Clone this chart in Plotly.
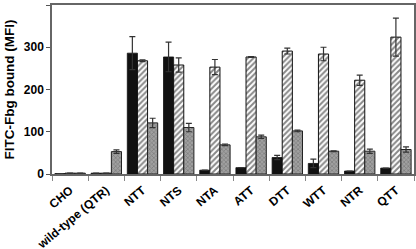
import plotly.graph_objects as go

categories = ["CHO", "wild-type (QTR)", "NTT", "NTS", "NTA", "ATT", "DTT", "WTT", "NTR", "QTT"]
black_vals = [1, 2, 286, 277, 9, 15, 39, 25, 7, 14]
black_err = [0, 0, 39, 35, 0, 0, 5, 10, 0, 0]
hatch_vals = [2, 2, 268, 258, 253, 277, 291, 284, 222, 324]
hatch_err = [0, 0, 2, 17, 18, 1, 7, 16, 12, 45]
gray_vals = [2, 53, 121, 110, 69, 88, 102, 54, 54, 58]
gray_err = [0, 4, 11, 10, 2, 4, 2, 1, 5, 6]

fig = go.Figure()
errstyle = dict(type="data", symmetric=True, color="#333333", thickness=1.2, width=3)
fig.add_trace(go.Bar(x=categories, y=black_vals, name="black",
                     marker=dict(color="#111111", line=dict(color="#111111", width=0.8)),
                     error_y=dict(array=black_err, **errstyle)))
fig.add_trace(go.Bar(x=categories, y=hatch_vals, name="hatched",
                     marker=dict(color="white", line=dict(color="#111111", width=1),
                                 pattern=dict(shape="/", fgcolor="#111111", bgcolor="white", size=4, solidity=0.5)),
                     error_y=dict(array=hatch_err, **errstyle)))
fig.add_trace(go.Bar(x=categories, y=gray_vals, name="gray",
                     marker=dict(color="#909090", line=dict(color="#222222", width=1),
                                 pattern=dict(shape="x", fgcolor="#555555", bgcolor="#a0a0a0", size=3, solidity=0.4)),
                     error_y=dict(array=gray_err, **errstyle)))

fig.update_layout(
    width=416, height=249,
    margin=dict(l=52, r=2, t=5, b=75),
    barmode="group", bargap=0.16, bargroupgap=0,
    plot_bgcolor="white", paper_bgcolor="white",
    showlegend=False,
    font=dict(family="Liberation Sans, Arial, sans-serif", color="black"),
)
fig.update_yaxes(range=[0, 400], tickvals=[0, 100, 200, 300, 400],
                 ticktext=["<b>0</b>", "<b>100</b>", "<b>200</b>", "<b>300</b>", "<b>400</b>"],
                 ticks="outside", ticklen=4, tickcolor="#555555", automargin=False,
                 showline=True, linecolor="#666666", linewidth=1.5, mirror=True,
                 showgrid=False, zeroline=False, tickfont=dict(size=12),
                 title=dict(text="<b>FITC-Fbg bound (MFI)</b>", font=dict(size=13.5), standoff=6))
fig.update_xaxes(tickvals=categories, ticktext=["<b>%s</b>" % c for c in categories],
                 tickangle=-40, tickson="boundaries", ticks="outside", ticklen=5, tickcolor="#888888",
                 automargin=False, ticklabelstandoff=3,
                 showline=True, linecolor="#666666", linewidth=1.5, mirror=True,
                 tickfont=dict(size=12))

fig.write_html("out.html", config={"displayModeBar": False},
               post_script="document.body.style.margin='0';document.body.style.overflow='hidden';")
